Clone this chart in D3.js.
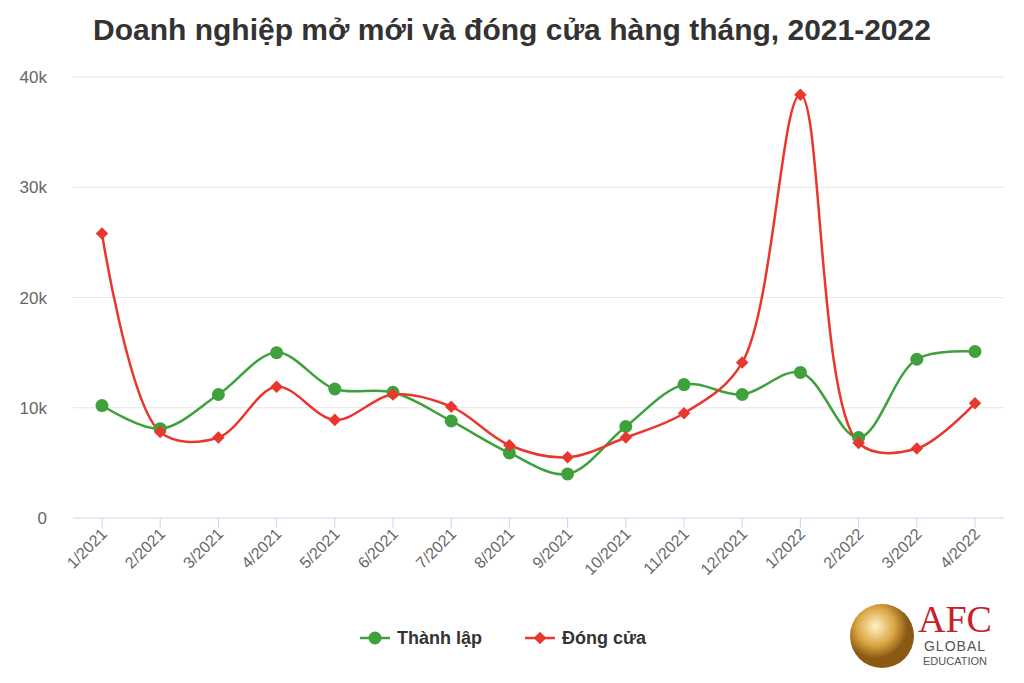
<!DOCTYPE html><html><head><meta charset="utf-8">
<script src="https://cdn.jsdelivr.net/npm/d3@7"></script>
<style>body{margin:0;background:#fff}svg{font-family:"Liberation Sans",Arial,sans-serif}</style></head><body>
<svg id="c" width="1024" height="683"></svg>
<script>
const months=["1/2021","2/2021","3/2021","4/2021","5/2021","6/2021","7/2021","8/2021","9/2021","10/2021","11/2021","12/2021","1/2022","2/2022","3/2022","4/2022"];
const thanhLap=[10200,8100,11200,15000,11700,11400,8800,5900,4000,8300,12100,11200,13200,7300,14400,15100];
const dongCua=[25800,7800,7300,11900,8900,11200,10100,6600,5500,7300,9500,14100,38400,6800,6300,10400];
const yTicks=[0,10000,20000,30000,40000];
const svg=d3.select("#c");
const x=d3.scalePoint().domain(months).range([102,975]);
const y=d3.scaleLinear().domain([0,40000]).range([518,77]);
svg.append("text").attr("x",512).attr("y",40).attr("text-anchor","middle").attr("font-size",30).attr("font-weight","bold").attr("fill","#333").text("Doanh nghiệp mở mới và đóng cửa hàng tháng, 2021-2022");
yTicks.forEach(t=>{
 svg.append("line").attr("x1",73).attr("x2",1004).attr("y1",y(t)).attr("y2",y(t)).attr("stroke",t===0?"#ccd6eb":"#e6e6e6");
 svg.append("text").attr("x",47).attr("y",y(t)+6).attr("text-anchor","end").attr("font-size",17).attr("fill","#666").text(t===0?"0":(t/1000)+"k");
});
months.forEach(m=>{
 svg.append("line").attr("x1",x(m)).attr("x2",x(m)).attr("y1",518).attr("y2",528).attr("stroke","#ccd6eb");
 svg.append("text").attr("transform",`translate(${x(m)+6},${535}) rotate(-45)`).attr("text-anchor","end").attr("font-size",16).attr("fill","#666").text(m);
});
const line=d3.line().x((d,i)=>x(months[i])).y(d=>y(d)).curve(d3.curveCatmullRom.alpha(0.5));
svg.append("path").datum(thanhLap).attr("d",line).attr("fill","none").attr("stroke","#3ea13c").attr("stroke-width",2.5);
svg.append("path").datum(dongCua).attr("d",line).attr("fill","none").attr("stroke","#e8382e").attr("stroke-width",2.5);
thanhLap.forEach((v,i)=>svg.append("circle").attr("cx",x(months[i])).attr("cy",y(v)).attr("r",6.5).attr("fill","#3ea13c"));
dongCua.forEach((v,i)=>svg.append("path").attr("d",d3.symbol(d3.symbolDiamond2,100)()).attr("transform",`translate(${x(months[i])},${y(v)})`).attr("fill","#e8382e"));
const lg=svg.append("g");
lg.append("line").attr("x1",360).attr("x2",390).attr("y1",638).attr("y2",638).attr("stroke","#3ea13c").attr("stroke-width",2.5);
lg.append("circle").attr("cx",375).attr("cy",638).attr("r",6.5).attr("fill","#3ea13c");
lg.append("text").attr("x",397).attr("y",644).attr("font-size",18).attr("font-weight","bold").attr("fill","#333").text("Thành lập");
lg.append("line").attr("x1",525).attr("x2",555).attr("y1",638).attr("y2",638).attr("stroke","#e8382e").attr("stroke-width",2.5);
lg.append("path").attr("d",d3.symbol(d3.symbolDiamond2,100)()).attr("transform","translate(540,638)").attr("fill","#e8382e");
lg.append("text").attr("x",562).attr("y",644).attr("font-size",18).attr("font-weight","bold").attr("fill","#333").text("Đóng cửa");
const g=svg.append("defs").append("radialGradient").attr("id","gold").attr("cx","40%").attr("cy","35%");
g.append("stop").attr("offset","0%").attr("stop-color","#fff3c4");
g.append("stop").attr("offset","60%").attr("stop-color","#d9a441");
g.append("stop").attr("offset","100%").attr("stop-color","#8a5a14");
svg.append("circle").attr("cx",882).attr("cy",636).attr("r",32).attr("fill","url(#gold)");
svg.append("text").attr("x",955).attr("y",632).attr("text-anchor","middle").attr("font-size",38).attr("fill","#c8202a").attr("font-family","Liberation Serif,serif").text("AFC");
svg.append("text").attr("x",955).attr("y",651).attr("text-anchor","middle").attr("font-size",14).attr("fill","#555").attr("letter-spacing",1).text("GLOBAL");
svg.append("text").attr("x",955).attr("y",665).attr("text-anchor","middle").attr("font-size",11).attr("fill","#555").text("EDUCATION");
</script></body></html>
